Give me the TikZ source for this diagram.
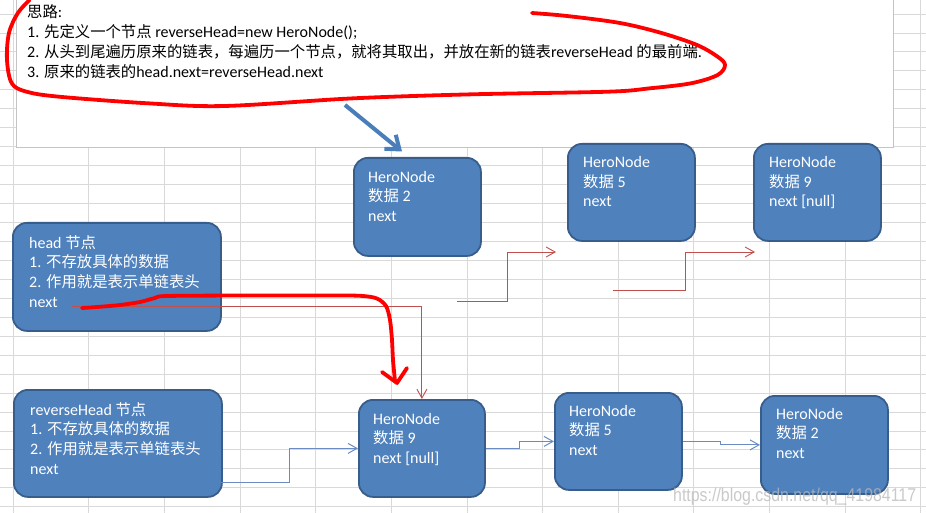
\documentclass[tikz,border=0pt]{standalone}
\usepackage{fontspec}
\setmainfont{Carlito}
\newfontfamily\zhf[Scale=0.96]{Noto Sans CJK SC}
\newfontfamily\wmfont[FakeStretch=0.86]{Liberation Sans}
\usetikzlibrary{arrows.meta,calc}
\definecolor{boxfill}{HTML}{4F81BD}
\definecolor{boxline}{HTML}{385D8A}
\definecolor{gridc}{HTML}{D9D9D9}
\definecolor{thinred}{HTML}{C0504D}
\definecolor{thinblue}{HTML}{6A8CC2}
\definecolor{framec}{HTML}{C4C4C4}
\definecolor{bluearrow}{HTML}{4A7EBB}
\newcommand{\zh}[1]{{\zhf #1}}
\newcommand{\tstrut}{\rule{0pt}{15pt}}
\tikzset{
  hbox/.style={draw=boxline, fill=boxfill, line width=1.8pt, rounded corners=14pt, inner sep=0pt, anchor=north west},
  txt/.style={anchor=north west, inner sep=0pt, align=left, text=white, font=\fontsize{16}{19.6}\selectfont},
  redpen/.style={draw=red, line width=3.8pt, line cap=round, line join=round},
  thinr/.style={draw=thinred, line width=0.9pt, -{Straight Barb[length=9pt,width=10pt]}},
  thinb/.style={draw=thinblue, line width=1pt, -{Straight Barb[length=9pt,width=10pt]}},
  gridline/.style={draw=gridc, line width=0.8pt}
}
\begin{document}
\begin{tikzpicture}[x=1pt,y=-1pt]
\useasboundingbox (0,0) rectangle (926,513);
\fill[white] (0,0) rectangle (926,513);
% spreadsheet grid
\foreach \k in {0,...,12} \draw[gridline] ({13+75.65*\k},0) -- ({13+75.65*\k},513);
\foreach \k in {0,...,26} \draw[gridline] (0,{14+18.95*\k}) -- (926,{14+18.95*\k});
% note box
\node[draw=framec, fill=white, line width=1.2pt, minimum width=877pt, minimum height=154pt, anchor=south west, inner sep=0pt] (note) at (16,148) {};
\node[anchor=north west, inner sep=0pt, align=left, font=\fontsize{16}{20}\selectfont] (notetext) at (27,2.5)
 {\tstrut\zh{思路}:\\
  1. \zh{先定义一个节点} reverseHead=new HeroNode();\\
  2. \zh{从头到尾遍历原来的链表，每遍历一个节点，就将其取出，并放在新的链表}reverseHead \zh{的最前端}.\\
  3. \zh{原来的链表的}head.next=reverseHead.next};
% red freehand loop
\draw[redpen] plot[smooth, tension=0.55] coordinates {
 (532,13) (567,16) (620,23) (661.5,33) (697,45) (717.6,56.7) (725,65) (717.6,75) (691,83.3) (650,88.3) (608,91.7)
 (472.5,94.3) (354,98.3) (224.5,106) (147.7,103.3) (59,96.7) (26.6,91.7) (11.8,83.3) (7,60) (8.9,33.3) (17.7,13.3) (29.5,0)};
% blue thick arrow
\coordinate (bs) at (345,105);
\coordinate (be) at (402,151.5);
\draw[draw=bluearrow, line width=4pt, -{Straight Barb[length=12pt,width=18pt]}] (bs) -- (be);
% nodes
\node[hbox, minimum width=208pt, minimum height=108pt] (head) at (12,222) {};
\node[hbox, minimum width=208pt, minimum height=107pt] (rev) at (13,389) {};
\node[hbox, minimum width=127pt, minimum height=98pt] (A) at (353,157) {};
\node[hbox, minimum width=127pt, minimum height=97pt] (B) at (567,143) {};
\node[hbox, minimum width=127pt, minimum height=97pt] (C) at (753,143) {};
\node[hbox, minimum width=126pt, minimum height=97pt] (D) at (358,399) {};
\node[hbox, minimum width=127pt, minimum height=97pt] (E) at (554,392) {};
\node[hbox, minimum width=127pt, minimum height=98pt] (F) at (760,395) {};
% node texts
\node[txt] (headt) at (29,233) {\tstrut head \zh{节点}\\1. \zh{不存放具体的数据}\\2. \zh{作用就是表示单链表头}\\next};
\node[txt] (revt) at (30,400) {\tstrut reverseHead \zh{节点}\\1. \zh{不存放具体的数据}\\2. \zh{作用就是表示单链表头}\\next};
\node[txt] (At) at (368,167) {\tstrut HeroNode\\\zh{数据} 2\\next};
\node[txt] (Bt) at (583,152.5) {\tstrut HeroNode\\\zh{数据} 5\\next};
\node[txt] (Ct) at (769,152.5) {\tstrut HeroNode\\\zh{数据} 9\\next [null]};
\node[txt] (Dt) at (373,409) {\tstrut HeroNode\\\zh{数据} 9\\next [null]};
\node[txt] (Et) at (569,401) {\tstrut HeroNode\\\zh{数据} 5\\next};
\node[txt] (Ft) at (776,404) {\tstrut HeroNode\\\zh{数据} 2\\next};
% thin red connectors (old list)
\coordinate (hn) at (72,306);
\draw[thinr] (hn) -| (D.north);
\coordinate (a1) at (457,301);
\coordinate (a2) at (556,252);
\draw[thinr] (a1) -- (507,301) |- (a2);
\coordinate (b1) at (613,290);
\coordinate (b2) at (755,252);
\draw[thinr] (b1) -- (685,290) |- (b2);
% thin blue connectors (reversed list)
\coordinate (r1) at (221,482);
\draw[thinb] (r1) -- (289,482) |- (D.west);
\draw[thinb] (D.east) -- (519,0 |- D.east) |- (E.west);
\draw[thinb] (E.east) -- (720,0 |- E.east) |- (F.west);
% red freehand arrow
\draw[redpen] plot[smooth, tension=0.5] coordinates {
 (82,308) (97,307) (120,305) (140,302) (155,298) (167,296) (250,295.5) (340,295.5) (363,296) (377,298.5) (386,306) (390,320) (392,340) (393,360) (395,381)};
\draw[redpen] (382,372) -- (397,383) -- (407,368);
% watermark
\node[anchor=base west, inner sep=0pt, text=white!72!black, text opacity=0.75, font=\wmfont\fontsize{18.5}{18.5}\selectfont] (wm) at (673,501) {https://blog.csdn.net/qq\_41984117};
\end{tikzpicture}
\end{document}
